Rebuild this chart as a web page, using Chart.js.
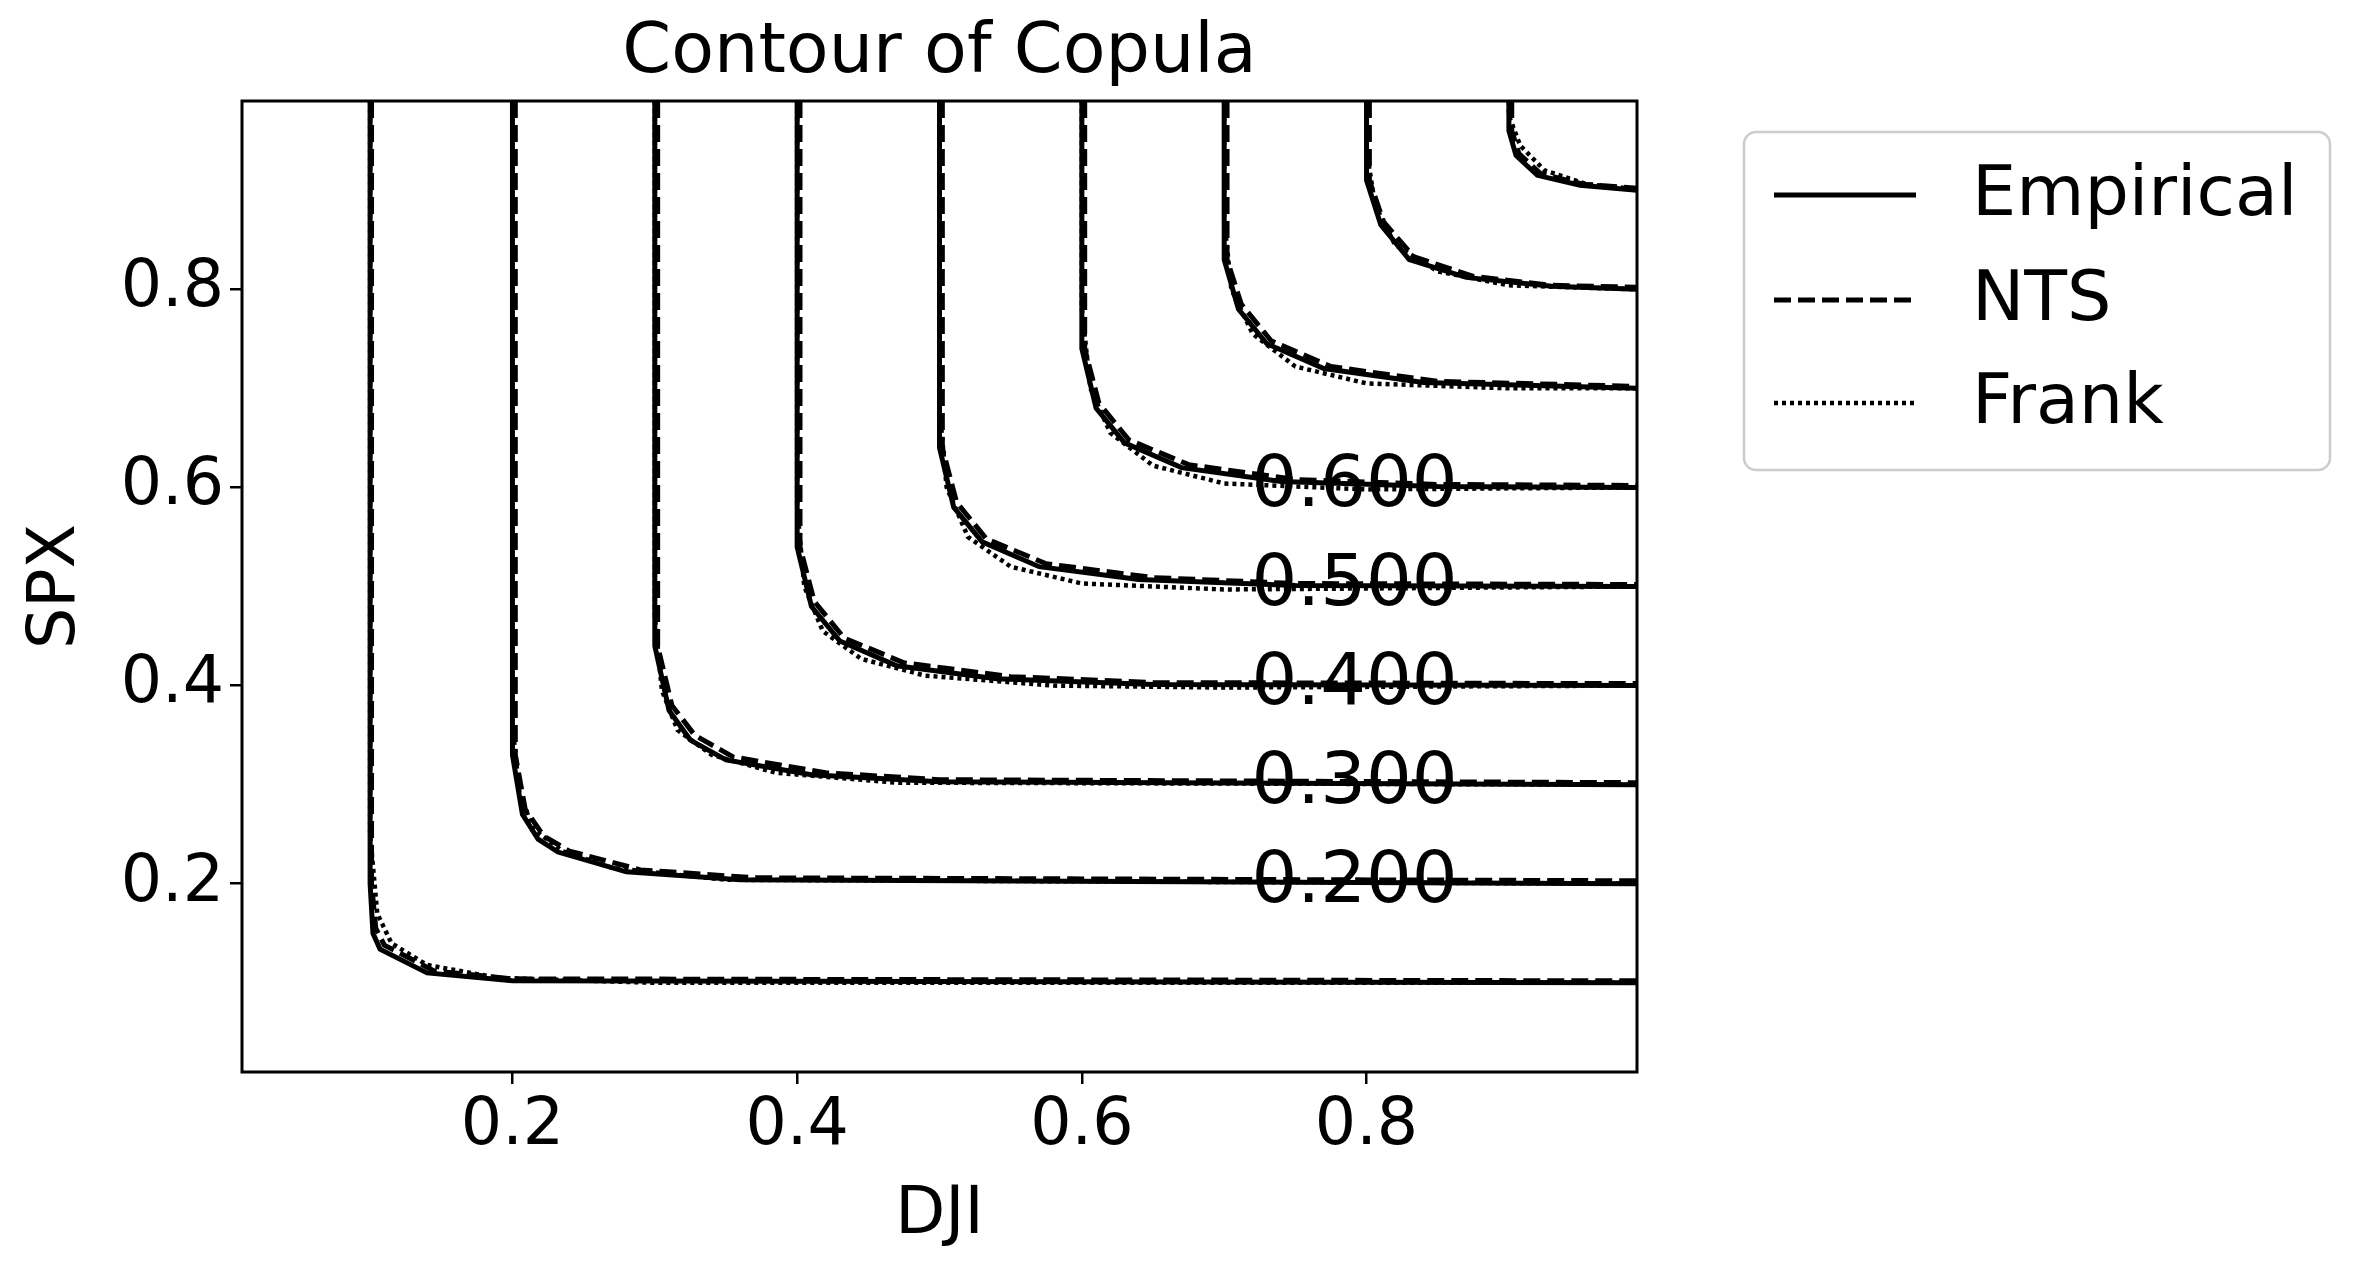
<!DOCTYPE html>
<html>
<head>
<meta charset="utf-8">
<script src="https://cdn.jsdelivr.net/npm/chart.js@4/dist/chart.umd.min.js"></script>
<style>
  html, body { margin: 0; padding: 0; background: #fff; }
</style>
</head>
<body>
<canvas id="myChart" width="2357" height="1265"></canvas>
<script>
// Contour levels and tick positions
const levels = [0.1, 0.2, 0.3, 0.4, 0.5, 0.6, 0.7, 0.8, 0.9];
const xTicks = [0.2, 0.4, 0.6, 0.8];
const yTicks = [0.2, 0.4, 0.6, 0.8];
const labelLevels = [0.2, 0.3, 0.4, 0.5, 0.6];
const labelX = 0.8;

// Each curve is a flat list x0,y0,x1,y1,...
const empirical = [
  [0.1,0.99, 0.1,0.2, 0.102,0.15, 0.107,0.134, 0.14,0.11, 0.2,0.102, 0.99,0.1],
  [0.2,0.99, 0.2,0.33, 0.207,0.27, 0.218,0.245, 0.232,0.232, 0.28,0.212, 0.36,0.204, 0.99,0.2],
  [0.3,0.99, 0.3,0.44, 0.31,0.375, 0.325,0.345, 0.35,0.325, 0.41,0.31, 0.5,0.303, 0.99,0.3],
  [0.4,0.99, 0.4,0.54, 0.41,0.48, 0.43,0.445, 0.47,0.42, 0.54,0.407, 0.65,0.401, 0.99,0.4],
  [0.5,0.99, 0.5,0.64, 0.51,0.58, 0.53,0.545, 0.57,0.52, 0.64,0.507, 0.75,0.501, 0.99,0.5],
  [0.6,0.99, 0.6,0.74, 0.61,0.68, 0.63,0.645, 0.67,0.62, 0.74,0.606, 0.85,0.601, 0.99,0.6],
  [0.7,0.99, 0.7,0.83, 0.71,0.78, 0.73,0.745, 0.77,0.72, 0.84,0.706, 0.99,0.7],
  [0.8,0.99, 0.8,0.91, 0.81,0.865, 0.83,0.83, 0.87,0.812, 0.93,0.803, 0.99,0.8],
  [0.9,0.99, 0.9,0.96, 0.905,0.935, 0.92,0.915, 0.95,0.905, 0.99,0.9]
];
const nts = [
  [0.101,0.99, 0.101,0.2, 0.104,0.155, 0.11,0.138, 0.145,0.112, 0.2,0.104, 0.99,0.102],
  [0.202,0.99, 0.202,0.33, 0.209,0.275, 0.222,0.248, 0.24,0.233, 0.29,0.214, 0.37,0.206, 0.99,0.203],
  [0.302,0.99, 0.302,0.44, 0.312,0.38, 0.328,0.35, 0.355,0.328, 0.42,0.312, 0.5,0.305, 0.99,0.302],
  [0.402,0.99, 0.402,0.54, 0.412,0.485, 0.433,0.448, 0.475,0.423, 0.55,0.409, 0.65,0.403, 0.99,0.402],
  [0.502,0.99, 0.502,0.64, 0.512,0.585, 0.533,0.548, 0.575,0.523, 0.65,0.509, 0.75,0.503, 0.99,0.502],
  [0.602,0.99, 0.602,0.74, 0.612,0.685, 0.633,0.648, 0.675,0.623, 0.75,0.608, 0.85,0.603, 0.99,0.602],
  [0.702,0.99, 0.702,0.83, 0.712,0.785, 0.733,0.748, 0.775,0.722, 0.85,0.707, 0.99,0.702],
  [0.802,0.99, 0.802,0.91, 0.812,0.868, 0.833,0.833, 0.875,0.813, 0.93,0.804, 0.99,0.802],
  [0.902,0.99, 0.902,0.96, 0.907,0.937, 0.922,0.917, 0.952,0.906, 0.99,0.902]
];
const frank = [
  [0.1,0.99, 0.1,0.25, 0.105,0.17, 0.115,0.14, 0.14,0.118, 0.19,0.105, 0.3,0.1, 0.99,0.1],
  [0.2,0.99, 0.2,0.36, 0.205,0.29, 0.215,0.255, 0.235,0.233, 0.27,0.216, 0.35,0.204, 0.99,0.2],
  [0.3,0.99, 0.3,0.47, 0.305,0.395, 0.316,0.355, 0.34,0.33, 0.385,0.312, 0.47,0.302, 0.99,0.3],
  [0.4,0.99, 0.4,0.58, 0.405,0.5, 0.418,0.455, 0.445,0.427, 0.49,0.41, 0.58,0.4, 0.7,0.398, 0.99,0.4],
  [0.5,0.99, 0.5,0.68, 0.505,0.6, 0.52,0.55, 0.55,0.52, 0.6,0.503, 0.7,0.497, 0.8,0.498, 0.99,0.5],
  [0.6,0.99, 0.6,0.78, 0.606,0.7, 0.62,0.655, 0.65,0.622, 0.7,0.604, 0.8,0.598, 0.99,0.6],
  [0.7,0.99, 0.7,0.87, 0.705,0.8, 0.72,0.755, 0.75,0.722, 0.8,0.705, 0.9,0.7, 0.99,0.7],
  [0.8,0.99, 0.8,0.94, 0.806,0.885, 0.82,0.845, 0.85,0.818, 0.9,0.804, 0.99,0.8],
  [0.9,0.99, 0.9,0.975, 0.908,0.945, 0.925,0.92, 0.955,0.906, 0.99,0.901]
];

function toPoints(flat) {
  const pts = [];
  for (let i = 0; i < flat.length; i += 2) pts.push({ x: flat[i], y: flat[i + 1] });
  return pts;
}

const styles = [
  { name: 'Empirical', curves: empirical, dash: [], width: 5 },
  { name: 'NTS', curves: nts, dash: [17, 7], width: 5 },
  { name: 'Frank', curves: frank, dash: [4, 4], width: 4.5 }
];

const datasets = [];
styles.forEach(s => {
  s.curves.forEach(c => {
    datasets.push({
      label: s.name,
      data: toPoints(c),
      showLine: true,
      borderColor: '#000',
      borderWidth: s.width,
      borderDash: s.dash,
      pointRadius: 0,
      fill: false,
      tension: 0
    });
  });
});

const FONT = 'DejaVu Sans';

// Frame, title, contour labels and legend
const extras = {
  id: 'extras',
  afterDatasetsDraw(chart) {
    const { ctx, chartArea: a, scales } = chart;
    ctx.save();
    ctx.fillStyle = '#000';
    ctx.font = '72px "' + FONT + '"';
    ctx.textAlign = 'center';
    ctx.textBaseline = 'middle';
    labelLevels.forEach(l => {
      ctx.fillText(l.toFixed(3), scales.x.getPixelForValue(labelX) - 12, scales.y.getPixelForValue(l));
    });
    ctx.strokeStyle = '#000';
    ctx.lineWidth = 3;
    ctx.setLineDash([]);
    ctx.strokeRect(a.left, a.top, a.right - a.left, a.bottom - a.top);
    ctx.font = '70px "' + FONT + '"';
    ctx.fillText('Contour of Copula', (a.left + a.right) / 2, 54);

    // legend
    const bx = 1744, by = 132, bw = 586, bh = 338, r = 12;
    ctx.beginPath();
    ctx.roundRect(bx, by, bw, bh, r);
    ctx.fillStyle = 'rgba(255,255,255,0.8)';
    ctx.fill();
    ctx.strokeStyle = '#cccccc';
    ctx.lineWidth = 2.5;
    ctx.stroke();
    const rows = [195, 300, 403];
    ctx.font = '70px "' + FONT + '"';
    ctx.textAlign = 'left';
    styles.forEach((s, i) => {
      ctx.beginPath();
      ctx.setLineDash(s.dash);
      ctx.strokeStyle = '#000';
      ctx.lineWidth = s.width;
      ctx.moveTo(1774, rows[i]);
      ctx.lineTo(1916, rows[i]);
      ctx.stroke();
      ctx.fillStyle = '#000';
      ctx.fillText(s.name, 1972, rows[i] + 2);
    });
    ctx.restore();
  }
};

const tickFont = { family: FONT, size: 65 };

new Chart(document.getElementById('myChart').getContext('2d'), {
  type: 'scatter',
  data: { datasets },
  options: {
    responsive: false,
    animation: false,
    devicePixelRatio: 1,
    layout: { padding: { top: 101, right: 720, left: 0, bottom: 0 } },
    plugins: { legend: { display: false }, tooltip: { enabled: false } },
    scales: {
      x: {
        type: 'linear', min: 0.01, max: 0.99,
        afterBuildTicks: s => { s.ticks = xTicks.map(v => ({ value: v })); },
        afterFit: s => { s.height = 193; },
        grid: { drawOnChartArea: false, color: '#000', tickLength: 12, lineWidth: 2.5 },
        border: { display: false },
        ticks: { color: '#000', font: tickFont, padding: 4, maxRotation: 0, callback: v => v.toFixed(1) },
        title: { display: true, text: 'DJI', color: '#000', font: tickFont, padding: { top: 0, bottom: 10 } }
      },
      y: {
        type: 'linear', min: 0.01, max: 0.99,
        afterBuildTicks: s => { s.ticks = yTicks.map(v => ({ value: v })); },
        afterFit: s => { s.width = 242; },
        grid: { drawOnChartArea: false, color: '#000', tickLength: 12, lineWidth: 2.5 },
        border: { display: false },
        ticks: { color: '#000', font: tickFont, padding: 6, callback: v => v.toFixed(1) },
        title: { display: true, text: 'SPX', color: '#000', font: tickFont, padding: { top: 18, bottom: 0 } }
      }
    }
  },
  plugins: [extras]
});
</script>
</body>
</html>
